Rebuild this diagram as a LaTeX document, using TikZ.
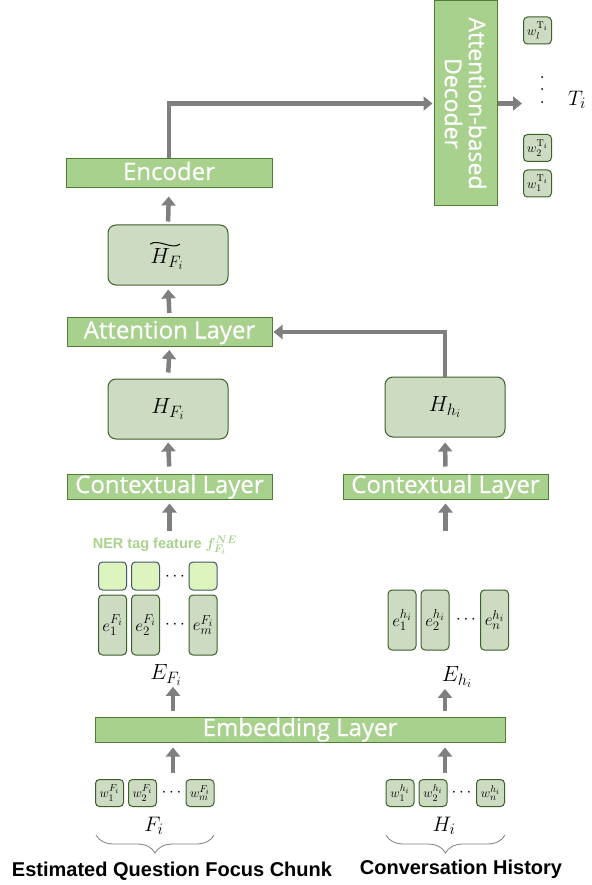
\RequirePackage{fix-cm}
\documentclass[tikz,border=0pt]{standalone}
\usepackage{fontspec}
\usepackage{bm}
\newfontfamily\layfont[FakeBold=0.6]{Open Sans}
\newfontfamily\capfont{Liberation Sans}
\usetikzlibrary{arrows.meta,decorations.pathreplacing}
\DeclareMathSizes{13}{13}{10}{8}
\DeclareMathSizes{14.5}{14.5}{11}{9}
\DeclareMathSizes{17}{17}{13}{10}
\DeclareMathSizes{21}{21}{16}{12}
\DeclareMathSizes{22}{22}{16.5}{12}
\definecolor{lgreen}{HTML}{A9D18E}
\definecolor{dgreen}{HTML}{507E32}
\definecolor{bgreen}{HTML}{3B6127}
\definecolor{boxfill}{HTML}{CCDBC2}
\definecolor{nerfill}{HTML}{DEF4BF}
\definecolor{nerline}{HTML}{44546A}
\definecolor{arrgray}{HTML}{7F7F7F}
\begin{document}
\begin{tikzpicture}[x=1pt,y=-1pt,
  layer/.style={draw=dgreen, line width=1pt, fill=lgreen, text=white,
    font=\layfont\fontsize{24}{24}\selectfont, inner sep=0pt,
    text height=17pt, text depth=4pt},
  decbox/.style={draw=dgreen, line width=1pt, fill=lgreen, text=white,
    font=\layfont\fontsize{23}{24}\selectfont, inner sep=0pt, align=center},
  rbox/.style={draw=bgreen, line width=1pt, fill=boxfill, rounded corners=8pt,
    inner sep=0pt, minimum width=120pt, minimum height=60pt,
    font=\fontsize{22}{22}\selectfont},
  ebox/.style={draw=bgreen, line width=1pt, fill=boxfill, rounded corners=4pt,
    inner sep=0pt, minimum width=28pt, minimum height=60pt,
    font=\fontsize{17}{17}\selectfont},
  wbox/.style={draw=bgreen, line width=1pt, fill=boxfill, rounded corners=4pt,
    inner sep=0pt, minimum width=28pt, minimum height=27pt,
    font=\fontsize{13}{13}\selectfont},
  nbox/.style={draw=nerline, line width=1pt, fill=nerfill, rounded corners=4pt,
    inner sep=0pt, minimum width=28pt, minimum height=28pt},
  lbl/.style={inner sep=0pt, font=\fontsize{22}{22}\selectfont},
  dotn/.style={circle, fill=black, inner sep=0pt, minimum size=2pt},
  hdots/.style={inner sep=0pt, font=\fontsize{17}{17}\selectfont},
  capt/.style={inner sep=0pt, font=\capfont\bfseries\fontsize{20}{20}\selectfont},
  arr/.style={draw=arrgray, line width=4.5pt, -{Triangle[width=14pt,length=9pt]}},
  brc/.style={draw=arrgray, line width=0.8pt, decorate,
    decoration={brace, mirror, amplitude=18pt}}
]
\useasboundingbox (0,0) rectangle (591,885);

% layers
\node[layer, minimum width=206pt, minimum height=29pt] (enc) at (169,173.5) {Encoder};
\node[decbox, minimum width=205pt, minimum height=63pt, rotate=-90] (dec) at (465.5,103.5) {Attention-based\\Decoder};
\node[layer, minimum width=205pt, minimum height=29pt] (att) at (169.5,332) {Attention Layer};
\node[layer, minimum width=205pt, minimum height=25pt] (ctxL) at (169.5,486.5) {Contextual Layer};
\node[layer, minimum width=205pt, minimum height=25pt] (ctxR) at (445.5,486.5) {Contextual Layer};
\node[layer, minimum width=410pt, minimum height=25pt] (emb) at (300,729.5) {Embedding Layer};

% hidden states
\node[rbox] (Ht) at (168,255) {};
\node[inner sep=0pt, font=\fontsize{22}{22}\selectfont] (HtT) at (167,259) {$H_{F_i}$};
\draw[line width=1pt] ([xshift=0pt,yshift=4pt]HtT.north west)
  .. controls +(8pt,6pt) and +(-8pt,-6pt) .. ([xshift=-4pt,yshift=4pt]HtT.north east);
\node[rbox] (HF) at (168,409) {$H_{F_i}$};
\node[rbox] (Hh) at (445,407) {$H_{h_i}$};

% output tokens
\node[wbox] (t1) at (537.5,30.5) {$w_l^{\mathrm{T}_i}$};
\node[dotn] (d1) at (542,77) {};
\node[dotn] (d2) at (542,89) {};
\node[dotn] (d3) at (542,102) {};
\node[wbox] (t2) at (537.5,148) {$w_2^{\mathrm{T}_i}$};
\node[wbox] (t3) at (537.5,183.5) {$w_1^{\mathrm{T}_i}$};
\node[lbl, font=\fontsize{21}{21}\selectfont] (Ti) at (577,100) {$T_i$};
\coordinate (decout) at (522,103.5);

% NER features
\node[inner sep=0pt, text=lgreen, font=\capfont\bfseries\fontsize{14.5}{14.5}\selectfont] (ner) at (165,545) {NER tag feature $\bm{f^{NE}_{F_i}}$};
\node[nbox] (n1) at (112.5,576) {};
\node[nbox] (n2) at (145.5,576) {};
\node[nbox] (n3) at (203,576) {};
\node[hdots] (nd) at (175,577) {$\cdots$};

% embeddings left
\node[ebox] (eF1) at (112.5,625) {$e_1^{F_i}$};
\node[ebox] (eF2) at (145.5,625) {$e_2^{F_i}$};
\node[ebox] (eF3) at (203,625) {$e_m^{F_i}$};
\node[hdots] (eFd) at (175,625) {$\cdots$};
\node[lbl] (EF) at (166,675) {$E_{F_i}$};

% embeddings right
\node[ebox] (eh1) at (402,620) {$e_1^{h_i}$};
\node[ebox] (eh2) at (435,620) {$e_2^{h_i}$};
\node[ebox] (eh3) at (494.5,620) {$e_n^{h_i}$};
\node[hdots] (ehd) at (466,620) {$\cdots$};
\node[lbl] (Eh) at (457,677) {$E_{h_i}$};

% input words
\node[wbox] (wF1) at (109.5,793) {$w_1^{F_i}$};
\node[wbox] (wF2) at (142.5,793) {$w_2^{F_i}$};
\node[wbox] (wF3) at (200,793) {$w_m^{F_i}$};
\node[hdots] (wFd) at (171.5,793) {$\cdots$};
\node[wbox] (wh1) at (400,793) {$w_1^{h_i}$};
\node[wbox] (wh2) at (433,793) {$w_2^{h_i}$};
\node[wbox] (wh3) at (490.5,793) {$w_n^{h_i}$};
\node[hdots] (whd) at (461.5,793) {$\cdots$};

\node[lbl, font=\fontsize{21}{21}\selectfont] (Fi) at (154,826) {$F_i$};
\node[lbl, font=\fontsize{21}{21}\selectfont] (Hi) at (444,826) {$H_i$};
\draw[brc] (96,835) -- (214,835);
\draw[brc] (386,835) -- (505,835);
\node[capt] (capL) at (172,871) {Estimated Question Focus Chunk};
\node[capt] (capR) at (461,869) {Conversation History};

% connectors
\coordinate (inL) at (169.5,531);
\coordinate (inR) at (445.5,531);
\coordinate (eL) at (173,711);
\coordinate (eR) at (445,711);
\coordinate (wL) at (173,773);
\coordinate (wR) at (445,773);

\draw[arr, shorten <=3pt, shorten >=8pt] (Ht.north) -- (enc.south);
\draw[arr, shorten <=4pt, shorten >=4pt] (att.north) -- (Ht.south);
\draw[arr, shorten <=6pt, shorten >=3pt] (HF.north) -- (att.south);
\draw[arr, shorten <=7pt, shorten >=3pt] (ctxL.north) -- (HF.south);
\draw[arr, shorten <=7pt, shorten >=5pt] (ctxR.north) -- (Hh.south);
\draw[arr, shorten >=1pt] (Hh.north) |- (att.east);
\draw[arr, shorten >=1pt] (enc.north) |- (dec.south);
\draw[arr] (dec.north) -- (decout);
\draw[arr, shorten >=4pt] (inL) -- (ctxL.south);
\draw[arr, shorten >=4pt] (inR) -- (ctxR.south);
\draw[arr, shorten >=1pt] (eL) -- (eL |- EF.south);
\draw[arr, shorten >=1pt] (eR) -- (eR |- Eh.south);
\draw[arr, shorten >=5pt] (wL) -- (wL |- emb.south);
\draw[arr, shorten >=5pt] (wR) -- (wR |- emb.south);
\end{tikzpicture}
\end{document}
